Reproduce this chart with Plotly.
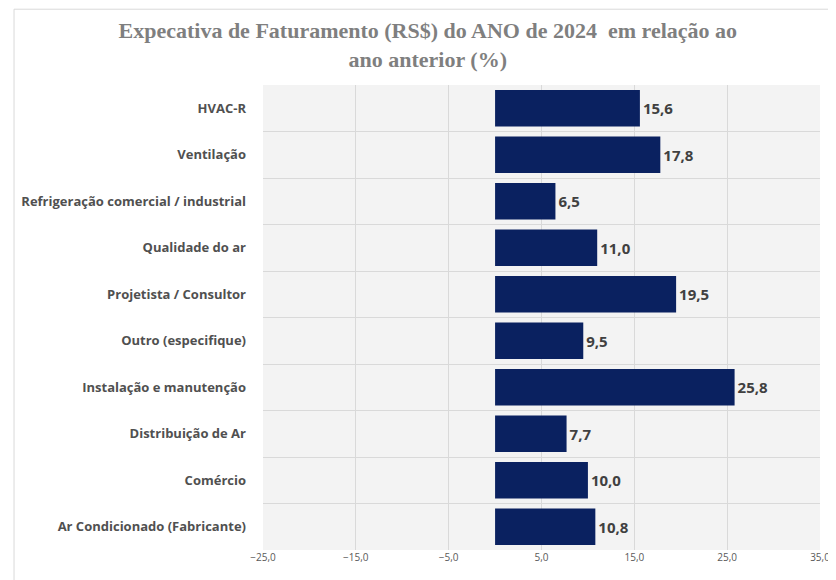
import plotly.graph_objects as go

categories = [
    "HVAC-R",
    "Ventilação",
    "Refrigeração comercial / industrial",
    "Qualidade do ar",
    "Projetista / Consultor",
    "Outro (especifique)",
    "Instalação e manutenção",
    "Distribuição de Ar",
    "Comércio",
    "Ar Condicionado (Fabricante)",
]
values = [15.6, 17.8, 6.5, 11.0, 19.5, 9.5, 25.8, 7.7, 10.0, 10.8]
x_ticks = [-25, -15, -5, 5, 15, 25, 35]

title_text = "Expecativa de Faturamento (RS$) do ANO de 2024  em relação ao<br>ano anterior (%)"

fig = go.Figure()
fig.add_trace(go.Bar(
    y=categories,
    x=values,
    orientation="h",
    marker=dict(color="#0a2160", line=dict(width=0)),
    width=0.78,
    text=[f"{v:.1f}".replace(".", ",") for v in values],
    textposition="outside",
    textfont=dict(family="Open Sans", size=15, color="#404040", weight="bold"),
    cliponaxis=False,
))

fig.update_layout(
    width=828,
    height=572,
    margin=dict(l=255, r=16, t=77, b=30, autoexpand=False),
    paper_bgcolor="white",
    plot_bgcolor="#f3f3f3",
    separators=",.",
    showlegend=False,
    title=dict(
        text=title_text,
        x=0.507,
        xanchor="center",
        y=0.947,
        yanchor="top",
        font=dict(family="Liberation Serif", size=22, color="#7f7f7f", weight="bold"),
    ),
    xaxis=dict(
        range=[-25, 35],
        tickvals=x_ticks,
        tickformat=".1f",
        tickfont=dict(family="Open Sans", size=10, color="#595959"),
        showgrid=True,
        gridcolor="#d9d9d9",
        gridwidth=1,
        zeroline=False,
        showline=False,
        ticks="",
        automargin=False,
    ),
    yaxis=dict(
        type="category",
        autorange="reversed",
        tickson="boundaries",
        showgrid=True,
        gridcolor="#d9d9d9",
        gridwidth=1,
        ticks="",
        ticklabelstandoff=16,
        tickfont=dict(family="Open Sans", size=13, color="#505050", weight="bold"),
        showline=False,
        automargin=False,
    ),
    shapes=[
        dict(type="rect", xref="paper", yref="paper",
             x0=-0.447, x1=1.1, y0=-0.2, y1=1.163,
             line=dict(color="#d9d9d9", width=1), fillcolor="rgba(0,0,0,0)",
             layer="below"),
    ],
)

fig.write_html("out.html")
